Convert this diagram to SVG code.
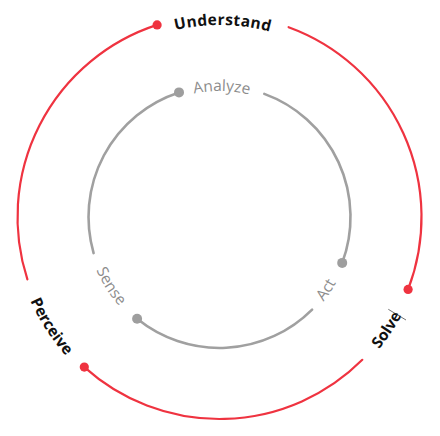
<svg xmlns="http://www.w3.org/2000/svg" width="440" height="436" viewBox="0 0 440 436">
<style>
.outer{fill:none;stroke:#ef3340;stroke-width:2.2;stroke-linecap:round}
.inner{fill:none;stroke:#a0a0a0;stroke-width:2.6;stroke-linecap:round}
.rdot{fill:#ef3340}
.gdot{fill:#9e9e9e}
.olab{font-family:"Open Sans","Liberation Sans",sans-serif;font-weight:700;font-size:15.5px;fill:#111}
.ilab{font-family:"Open Sans","Liberation Sans",sans-serif;font-weight:400;font-size:15.5px;fill:#8c8c8c}
</style>
<defs>
<path id="pUnderstand" d="M54.9,118.1 A192,192 0 0 1 387.4,123.9"/>
<path id="pPerceive" d="M36.0,123.5 A205,205 0 0 0 230.3,422.7"/>
<path id="pSolve" d="M205.1,423.5 A207,207 0 0 0 405.6,126.3"/>
<path id="pAnalyze" d="M111.5,152.1 A126,126 0 0 1 329.7,155.9"/>
<path id="pSense" d="M100.6,155.1 A134,134 0 0 0 225.3,350.9"/>
<path id="pAct" d="M209.5,350.6 A134,134 0 0 0 340.2,158.9"/>
</defs>
<g id="connectors">
<path class="outer" d="M157.1,24.9 A202,202 0 0 0 27.4,279.4"/>
<path class="outer" d="M84.3,367.1 A202,202 0 0 0 362.3,359.8"/>
<path class="outer" d="M408.1,289.4 A202,202 0 0 0 288.6,27.2"/>
<path class="inner" d="M179.0,92.4 A131,131 0 0 0 93.6,253.1"/>
<path class="inner" d="M137.1,318.8 A131,131 0 0 0 312.1,309.6"/>
<path class="inner" d="M342.2,262.9 A131,131 0 0 0 264.3,93.9"/>
</g>
<g id="understand">
<circle class="rdot" cx="157.1" cy="24.9" r="4.6"/>
<text class="olab" letter-spacing="0.4"><textPath href="#pUnderstand" startOffset="50%" text-anchor="middle">Understand</textPath></text>
</g>
<g id="perceive">
<circle class="rdot" cx="84.3" cy="367.1" r="4.6"/>
<text class="olab"><textPath href="#pPerceive" startOffset="50%" text-anchor="middle">Perceive</textPath></text>
</g>
<g id="solve">
<circle class="rdot" cx="408.1" cy="289.4" r="4.6"/>
<text class="olab"><textPath href="#pSolve" startOffset="50%" text-anchor="middle">Solve</textPath></text>
<line x1="388.3" y1="309.3" x2="406" y2="320" stroke="#333" stroke-width="0.7"/>
</g>
<g id="analyze">
<circle class="gdot" cx="179.0" cy="92.4" r="5"/>
<text class="ilab"><textPath href="#pAnalyze" startOffset="50%" text-anchor="middle">Analyze</textPath></text>
</g>
<g id="sense">
<circle class="gdot" cx="137.1" cy="318.8" r="5"/>
<text class="ilab"><textPath href="#pSense" startOffset="50%" text-anchor="middle">Sense</textPath></text>
</g>
<g id="act">
<circle class="gdot" cx="342.2" cy="262.9" r="5"/>
<text class="ilab"><textPath href="#pAct" startOffset="50%" text-anchor="middle">Act</textPath></text>
</g>
</svg>
